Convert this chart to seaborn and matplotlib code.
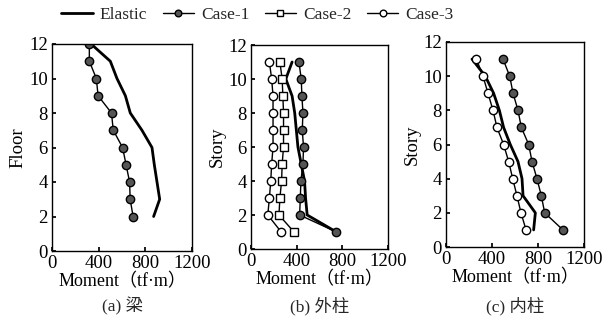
import matplotlib
matplotlib.use("Agg")
import matplotlib.pyplot as plt
import seaborn as sns
import numpy as np
import pandas as pd

# ---- data ----
stories_a = [12, 11, 10, 9, 8, 7, 6, 5, 4, 3, 2]
a_elastic = [335, 500, 557, 629, 671, 771, 857, 877, 900, 923, 871]
a_case1 = [320, 320, 380, 395, 510, 525, 605, 635, 665, 670, 695]

stories_bc = [11, 10, 9, 8, 7, 6, 5, 4, 3, 2, 1]
b_elastic = [360, 305, 360, 383, 397, 411, 440, 469, 478, 492, 748]
b_case1 = [420, 440, 446, 455, 449, 460, 455, 437, 432, 426, 748]
b_case2 = [253, 273, 279, 285, 285, 285, 273, 268, 253, 245, 377]
b_case3 = [161, 181, 193, 193, 193, 193, 181, 173, 161, 147, 265]

c_elastic = [226, 342, 414, 464, 501, 559, 626, 661, 670, 777, 762]
c_case1 = [496, 554, 583, 626, 655, 719, 748, 791, 829, 858, 1017]
c_case3 = [264, 322, 365, 409, 443, 501, 545, 580, 617, 652, 696]

xticks = [0, 400, 800, 1200]
yticks = [0, 2, 4, 6, 8, 10, 12]
ylabels = ["Floor", "Story", "Story"]
subtitles = ["(a) 梁", "(b) 外柱", "(c) 内柱"]
xlabel = "Moment（tf·m）"

sns.set_theme(style="ticks")
plt.rcParams['font.family'] = ['Liberation Serif', 'Noto Sans CJK SC', 'DejaVu Sans']
plt.rcParams['axes.linewidth'] = 1.0

fig = plt.figure(figsize=(6.13, 3.22), dpi=100)
W, H = 613, 322
boxes = [(52, 192, 44, 251), (251, 388, 45, 249), (446, 584, 42, 247)]
axes = []
for (l, r, t, b) in boxes:
    axes.append(fig.add_axes([l / W, 1 - b / H, (r - l) / W, (b - t) / H]))

styles = {
    "Elastic": dict(color="black", lw=2.0, marker=None),
    "Case-1": dict(color="black", lw=1.0, marker="o", mfc="#555555", mec="black", ms=6, mew=1.0),
    "Case-2": dict(color="black", lw=1.0, marker="s", mfc="white", mec="black", ms=6, mew=1.0),
    "Case-3": dict(color="black", lw=1.0, marker="o", mfc="white", mec="black", ms=6, mew=1.0),
}

def draw(ax, xs, ys, name):
    st = styles[name]
    kw = dict(x=xs, y=ys, sort=False, estimator=None, ax=ax, color=st["color"],
              linewidth=st["lw"], label=name)
    if st["marker"]:
        kw.update(marker=st["marker"], markerfacecolor=st["mfc"], markeredgecolor=st["mec"],
                  markersize=st["ms"], markeredgewidth=st["mew"])
    sns.lineplot(**kw)

draw(axes[0], a_elastic, stories_a, "Elastic")
draw(axes[0], a_case1, stories_a, "Case-1")

draw(axes[1], b_elastic, stories_bc, "Elastic")
draw(axes[1], b_case1, stories_bc, "Case-1")
draw(axes[1], b_case2, stories_bc, "Case-2")
draw(axes[1], b_case3, stories_bc, "Case-3")

draw(axes[2], c_elastic, stories_bc, "Elastic")
draw(axes[2], c_case1, stories_bc, "Case-1")
draw(axes[2], c_case3, stories_bc, "Case-3")

for i, ax in enumerate(axes):
    ax.set_xlim(0, 1200)
    ax.set_ylim(0, 12)
    ax.set_xticks(xticks)
    ax.set_yticks(yticks)
    ax.tick_params(direction="in", length=3, labelsize=13.5, pad=3, colors="black")
    ax.set_xlabel(xlabel, fontsize=13, labelpad=1, color="black")
    ax.set_ylabel(ylabels[i], fontsize=13.5, labelpad=2, color="black")
    for s in ax.spines.values():
        s.set_color("black")
        s.set_visible(True)
    leg = ax.get_legend()
    if leg:
        leg.remove()
    cx = (boxes[i][0] + boxes[i][1]) / 2 / W
    fig.text(cx, 1 - 306 / H, subtitles[i], ha="center", va="center", fontsize=12.5,
             family=['Liberation Serif', 'Noto Sans CJK SC'])

handles, labels = axes[1].get_legend_handles_labels()
order = ["Elastic", "Case-1", "Case-2", "Case-3"]
hmap = dict(zip(labels, handles))
fig.legend([hmap[k] for k in order], ["Elastic", "Case-1", "Case-2", "Case-3"],
           loc="center", bbox_to_anchor=(0.42, 1 - 15 / H), ncol=4, frameon=False,
           fontsize=12.5, handlelength=1.8, handletextpad=0.4, columnspacing=0.9,
           markerscale=0.8)

fig.savefig("out.png", dpi=100)
